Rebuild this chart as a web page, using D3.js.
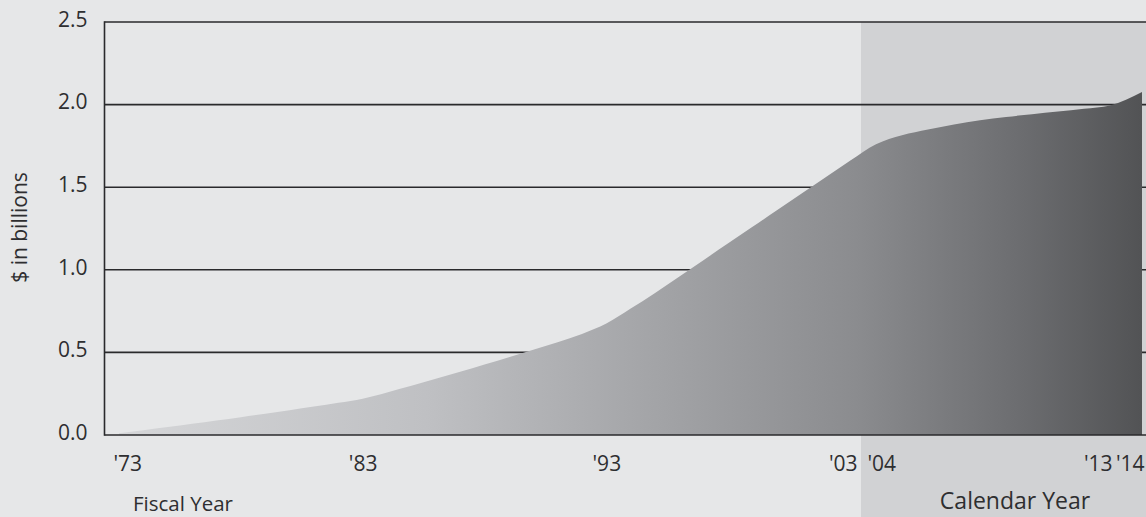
<!DOCTYPE html>
<html>
<head>
<meta charset="utf-8">
<script src="https://cdn.jsdelivr.net/npm/d3@7"></script>
<style>
  html, body { margin: 0; padding: 0; background: #e6e7e8; }
  svg { display: block; font-family: "Open Sans", "Noto Sans", sans-serif; }
</style>
</head>
<body>
<svg id="chart" width="1146" height="517"></svg>
<script>
// ---- data ----
const years  = [1973, 1974, 1975, 1976, 1977, 1978, 1979, 1980, 1981, 1982,
                1983, 1984, 1985, 1986, 1987, 1988, 1989, 1990, 1991, 1992,
                1993, 1994, 1995, 1996, 1997, 1998, 1999, 2000, 2001, 2002,
                2003,
                2004, 2005, 2006, 2007, 2008, 2009, 2010, 2011, 2012, 2013, 2014];
const values = [0.01, 0.029, 0.048, 0.068, 0.088, 0.108, 0.129, 0.15, 0.172, 0.195,
                0.22, 0.258, 0.298, 0.34, 0.383, 0.427, 0.471, 0.516, 0.562, 0.612,
                0.675, 0.765, 0.86, 0.96, 1.06, 1.16, 1.26, 1.36, 1.46, 1.56,
                1.66,
                1.76, 1.815, 1.85, 1.88, 1.905, 1.925, 1.942, 1.958, 1.975, 1.995, 2.076];
const xTickYears = [1973, 1983, 1993, 2003, 2004, 2013, 2014];
const yTicks = [0, 0.5, 1.0, 1.5, 2.0, 2.5];
const fiscalLabel = "Fiscal Year";
const calendarLabel = "Calendar Year";
const yTitle = "$ in billions";

const data = years.map((yr, i) => ({ year: yr, value: values[i] }));

// ---- layout ----
const W = 1146, H = 517;
const mLeft = 104.5, mTop = 22, mBottom = 435;

// fiscal years (1973-2003) and calendar years (2004-2014) on a piecewise scale
const x = d3.scaleLinear()
  .domain([1973, 2003, 2004, 2013, 2014])
  .range([119, 850, 876, 1110, 1142]);

const y = d3.scaleLinear().domain([0, 2.5]).range([mBottom, mTop]);

const svg = d3.select("#chart");
const textColor = "#2e2e30";
const lineColor = "#2a2a2c";

svg.append("rect").attr("width", W).attr("height", H).attr("fill", "#e6e7e8");

// calendar-year shaded band
const bandStart = (x(2003) + x(2004)) / 2 - 2;
svg.append("rect")
  .attr("x", bandStart).attr("y", y(2.5))
  .attr("width", W - bandStart).attr("height", H - y(2.5))
  .attr("fill", "#d1d2d4");

// gridlines
svg.append("g").selectAll("line")
  .data(yTicks.filter(d => d > 0))
  .join("line")
  .attr("x1", mLeft).attr("x2", W)
  .attr("y1", d => y(d)).attr("y2", d => y(d))
  .attr("stroke", lineColor).attr("stroke-width", 1.6);

// gradient
const defs = svg.append("defs");
const grad = defs.append("linearGradient")
  .attr("id", "areaGrad")
  .attr("gradientUnits", "userSpaceOnUse")
  .attr("x1", x(1973)).attr("x2", x(2014)).attr("y1", 0).attr("y2", 0);
[[0, "#d5d6d8"], [0.3, "#bfc0c3"], [0.5, "#a6a7aa"], [0.72, "#8b8c8f"], [0.88, "#6c6d70"], [1, "#525355"]]
  .forEach(([o, c]) => grad.append("stop").attr("offset", o).attr("stop-color", c));

// area
const area = d3.area()
  .x(d => x(d.year))
  .y0(y(0))
  .y1(d => y(d.value))
  .curve(d3.curveMonotoneX);

svg.append("path")
  .datum(data)
  .attr("d", area)
  .attr("fill", "url(#areaGrad)");

// axis lines on top
svg.append("line")
  .attr("x1", mLeft).attr("x2", W).attr("y1", y(0)).attr("y2", y(0))
  .attr("stroke", lineColor).attr("stroke-width", 1.6);
svg.append("line")
  .attr("x1", mLeft).attr("x2", mLeft).attr("y1", y(2.5) - 0.8).attr("y2", y(0) + 0.8)
  .attr("stroke", lineColor).attr("stroke-width", 1.6);

// y axis labels
const yAxis = d3.axisLeft(y).tickValues(yTicks).tickFormat(d3.format(".1f"))
  .tickSize(0).tickPadding(17);
const gy = svg.append("g").attr("transform", `translate(${mLeft},0)`).call(yAxis);
gy.select(".domain").remove();
gy.selectAll("text")
  .attr("font-size", 21).attr("fill", textColor)
  .attr("font-family", "Open Sans, Noto Sans, sans-serif")
  .attr("dy", "0.2em");

// x axis labels
const anchorFor = d => d === 1973 || d === 2004 ? "start" : (d === 2003 || d >= 2013 ? "end" : "middle");
const dxFor = d => d === 1973 ? -6 : d === 2004 ? -9 : d === 2003 ? 7 : d >= 2013 ? 2 : 0;
const xAxis = d3.axisBottom(x).tickValues(xTickYears)
  .tickFormat(d => "'" + String(d).slice(2))
  .tickSize(0).tickPadding(21);
const gx = svg.append("g").attr("transform", `translate(0,${mBottom})`).call(xAxis);
gx.select(".domain").remove();
gx.selectAll("text")
  .attr("font-size", 21).attr("fill", textColor)
  .attr("font-family", "Open Sans, Noto Sans, sans-serif")
  .attr("text-anchor", anchorFor)
  .attr("dx", dxFor);

// Fiscal / Calendar labels
svg.append("text")
  .attr("x", 133).attr("y", 511)
  .attr("font-size", 20.5).attr("fill", textColor)
  .text(fiscalLabel);
svg.append("text")
  .attr("x", 1015).attr("y", 509)
  .attr("text-anchor", "middle")
  .attr("font-size", 23).attr("fill", textColor)
  .text(calendarLabel);

// y title
svg.append("text")
  .attr("transform", `translate(27,${(y(0) + y(2.5)) / 2 - 1}) rotate(-90)`)
  .attr("text-anchor", "middle")
  .attr("font-size", 21).attr("fill", textColor)
  .text(yTitle);
</script>
</body>
</html>
